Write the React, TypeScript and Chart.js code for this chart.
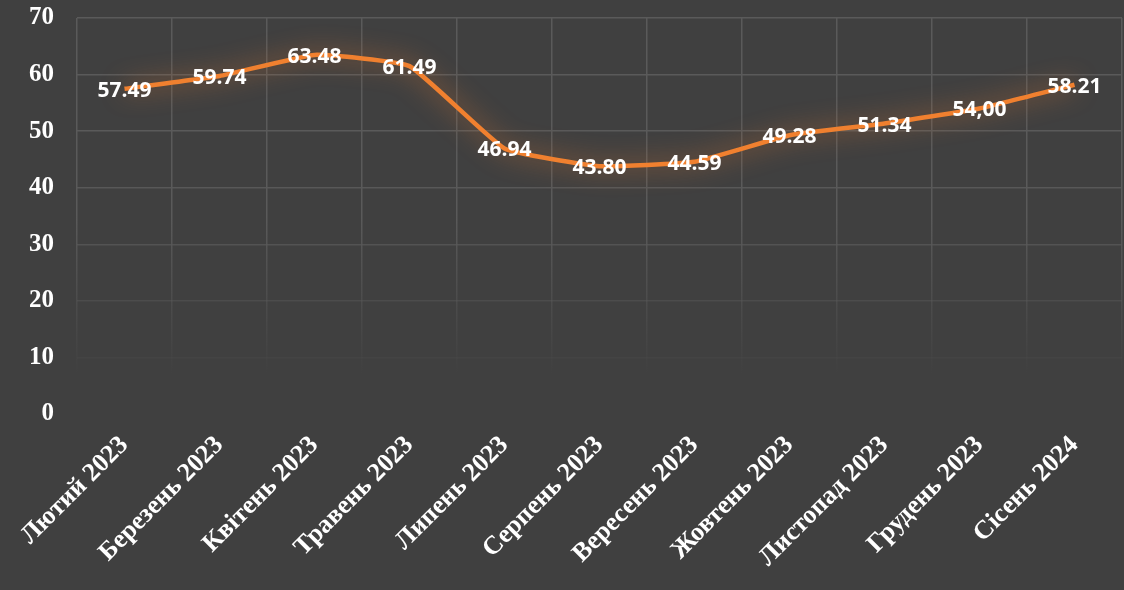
import React, { useEffect, useRef } from "react";
import { Chart, registerables } from "chart.js";

Chart.register(...registerables);

const categories = [
  "Лютий 2023",
  "Березень 2023",
  "Квітень 2023",
  "Травень 2023",
  "Липень 2023",
  "Серпень 2023",
  "Вересень 2023",
  "Жовтень 2023",
  "Листопад 2023",
  "Грудень 2023",
  "Сісень 2024",
];
const values = [57.49, 59.74, 63.48, 61.49, 46.94, 43.8, 44.59, 49.28, 51.34, 54.0, 58.21];
const valueLabels = ["57.49", "59.74", "63.48", "61.49", "46.94", "43.80", "44.59", "49.28", "51.34", "54,00", "58.21"];
const yMin = 0;
const yMax = 70;
const yStep = 10;

const BG = "#404040";
const GRID = "90,90,90";
const LINE = "#F0802F";

const glowPlugin = {
  id: "glow",
  beforeDatasetDraw(chart: any) {
    const ctx = chart.ctx;
    ctx.save();
    ctx.shadowColor = "rgba(240,128,47,0.8)";
    ctx.shadowBlur = 24;
    ctx.shadowOffsetX = 0;
    ctx.shadowOffsetY = 0;
  },
  afterDatasetDraw(chart: any) {
    chart.ctx.restore();
  },
};

const labelPlugin = {
  id: "valueLabels",
  afterDatasetsDraw(chart: any) {
    const ctx = chart.ctx;
    const meta = chart.getDatasetMeta(0);
    ctx.save();
    ctx.font = "bold 21px 'Open Sans'";
    ctx.fillStyle = "#ffffff";
    ctx.textAlign = "center";
    ctx.textBaseline = "middle";
    meta.data.forEach((pt: any, i: number) => {
      ctx.fillText(valueLabels[i], pt.x, pt.y + 2);
    });
    ctx.restore();
  },
};

const bgPlugin = {
  id: "bg",
  beforeDraw(chart: any) {
    const ctx = chart.ctx;
    ctx.save();
    ctx.fillStyle = BG;
    ctx.fillRect(0, 0, chart.width, chart.height);
    ctx.restore();
  },
};

export default function App() {
  const ref = useRef<HTMLCanvasElement | null>(null);

  useEffect(() => {
    document.body.style.margin = "0";
    document.body.style.background = BG;
    if (!ref.current) return;
    const chart = new Chart(ref.current, {
      type: "line",
      data: {
        labels: categories,
        datasets: [
          {
            data: values,
            borderColor: LINE,
            borderWidth: 4.5,
            tension: 0.12,
            pointRadius: 0,
            fill: false,
          },
        ],
      },
      options: {
        animation: false,
        responsive: false,
        maintainAspectRatio: false,
        events: [],
        layout: { padding: { left: 6, top: 0, right: 2, bottom: 0 } },
        plugins: {
          legend: { display: false },
          tooltip: { enabled: false },
          title: { display: false },
        },
        scales: {
          x: {
            offset: true,
            border: { display: false },
            afterFit: (scale: any) => {
              scale.paddingLeft = 0;
              scale.paddingRight = 0;
              scale.height = 176;
            },
            grid: {
              offset: true,
              drawTicks: false,
              lineWidth: 1.5,
              color: (ctx: any) => {
                const chart = ctx.chart;
                const area = chart.chartArea;
                if (!area) return `rgba(${GRID},1)`;
                const g = chart.ctx.createLinearGradient(0, area.top, 0, area.bottom);
                g.addColorStop(0, `rgba(${GRID},1)`);
                g.addColorStop(0.5, `rgba(${GRID},1)`);
                g.addColorStop(0.9, `rgba(${GRID},0)`);
                g.addColorStop(1, `rgba(${GRID},0)`);
                return g;
              },
            },
            ticks: {
              color: "#ffffff",
              font: { family: "'Liberation Serif'", weight: "bold", size: 26 },
              maxRotation: 45,
              minRotation: 45,
              autoSkip: false,
              padding: 16,
            },
          },
          y: {
            min: yMin,
            max: yMax,
            border: { display: false },
            afterFit: (scale: any) => {
              scale.paddingTop = 18;
              scale.paddingBottom = 0;
            },
            grid: {
              drawTicks: false,
              lineWidth: 1.5,
              color: (ctx: any) => {
                const v = ctx.tick ? ctx.tick.value : 0;
                const alphas: Record<number, number> = { 70: 1, 60: 1, 50: 1, 40: 0.95, 30: 0.75, 20: 0.45, 10: 0.18, 0: 0 };
                const a = alphas[v] ?? 1;
                return `rgba(${GRID},${a})`;
              },
            },
            ticks: {
              stepSize: yStep,
              color: "#ffffff",
              font: { family: "'Liberation Serif'", weight: "bold", size: 25 },
              padding: 23,
            },
          },
        },
      },
      plugins: [bgPlugin, glowPlugin, labelPlugin],
    });
    return () => chart.destroy();
  }, []);

  return (
    <div style={{ width: 1124, height: 590, background: BG }}>
      <canvas ref={ref} width={1124} height={590} style={{ display: "block" }} />
    </div>
  );
}
